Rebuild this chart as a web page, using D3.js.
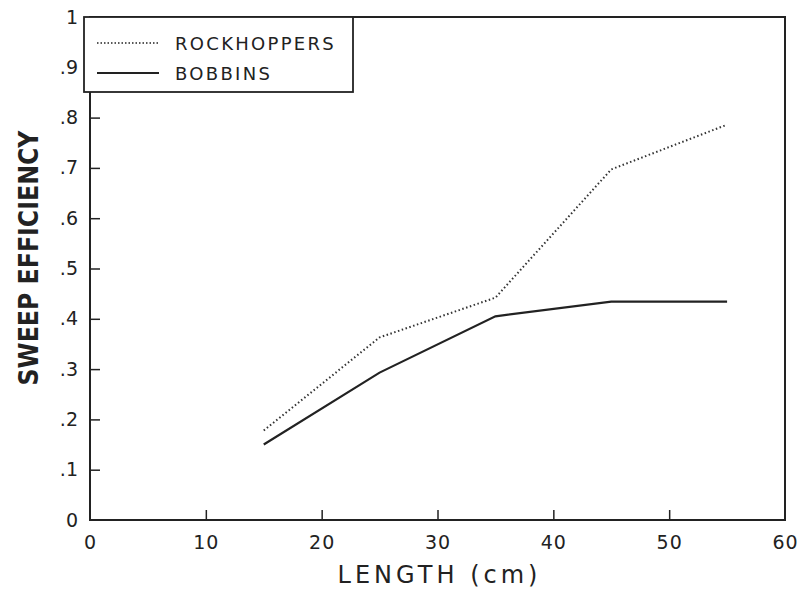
<!DOCTYPE html>
<html>
<head>
<meta charset="utf-8">
<script src="https://cdn.jsdelivr.net/npm/d3@7"></script>
<style>
  body { margin: 0; background: #fff; }
  text { font-family: "DejaVu Sans", sans-serif; fill: #222; }
</style>
</head>
<body>
<div id="chart"></div>
<script>
// data
var lengths = [15, 25, 35, 45, 55];
var rockhoppers = [0.178, 0.363, 0.442, 0.697, 0.786];
var bobbins = [0.150, 0.293, 0.405, 0.434, 0.434];
var xTicks = [0, 10, 20, 30, 40, 50, 60];
var yTicks = [0, 0.1, 0.2, 0.3, 0.4, 0.5, 0.6, 0.7, 0.8, 0.9, 1];
var seriesNames = ["ROCKHOPPERS", "BOBBINS"];

var width = 800, height = 590;
var margin = {left: 90, top: 17, right: 15, bottom: 70};
var w = width - margin.left - margin.right;
var h = height - margin.top - margin.bottom;

var svg = d3.select("#chart").append("svg")
    .attr("width", width)
    .attr("height", height);

var g = svg.append("g").attr("transform", "translate(" + margin.left + "," + margin.top + ")");

var x = d3.scaleLinear().domain([0, 60]).range([0, w]);
var y = d3.scaleLinear().domain([0, 1]).range([h, 0]);

function yFmt(d) {
    if (d == 0) return "0";
    if (d == 1) return "1";
    return d3.format(".1f")(d).replace(/^0/, "");
}

// frame
g.append("rect")
    .attr("width", w).attr("height", h)
    .attr("fill", "none").attr("stroke", "#222").attr("stroke-width", 2);

// x axis, ticks pointing in
var xa = g.append("g")
    .attr("transform", "translate(0," + h + ")")
    .call(d3.axisBottom(x).tickValues(xTicks).tickSizeInner(-10).tickSizeOuter(0).tickPadding(16));
xa.select(".domain").remove();
xa.selectAll("line").attr("stroke", "#222").attr("stroke-width", 1.5);
xa.selectAll("text").attr("font-size", "19px").attr("font-family", "DejaVu Sans")
    .attr("letter-spacing", "1px").attr("fill", "#222");

var ya = g.append("g")
    .call(d3.axisLeft(y).tickValues(yTicks).tickFormat(yFmt).tickSizeInner(-10).tickSizeOuter(0).tickPadding(12));
ya.select(".domain").remove();
ya.selectAll("line").attr("stroke", "#222").attr("stroke-width", 1.5);
ya.selectAll("text").attr("font-size", "19px").attr("font-family", "DejaVu Sans").attr("fill", "#222");
// end ticks sit on the frame
ya.selectAll(".tick").filter(d => d == 0 || d == 1).select("line").remove();
xa.selectAll(".tick").filter(d => d == 0 || d == 60).select("line").remove();

var line = d3.line()
    .x((d, i) => x(lengths[i]))
    .y(d => y(d));

g.append("path")
    .datum(rockhoppers)
    .attr("d", line)
    .attr("fill", "none")
    .attr("stroke", "#333")
    .attr("stroke-width", 2)
    .attr("stroke-dasharray", "1.5,2.5");

g.append("path")
    .datum(bobbins)
    .attr("d", line)
    .attr("fill", "none")
    .attr("stroke", "#222")
    .attr("stroke-width", 2.2);

// legend
var lg = g.append("g").attr("transform", "translate(-6,0)");
lg.append("rect")
    .attr("width", 269).attr("height", 75)
    .attr("fill", "#fff").attr("stroke", "#222").attr("stroke-width", 1.8);
seriesNames.forEach(function(name, i) {
    var yy = 26 + i * 30;
    lg.append("line")
        .attr("x1", 13).attr("x2", 75)
        .attr("y1", yy).attr("y2", yy)
        .attr("stroke", "#222")
        .attr("stroke-width", i == 0 ? 1.5 : 2)
        .attr("stroke-dasharray", i == 0 ? "1.5,2" : null);
    lg.append("text")
        .attr("x", 91).attr("y", yy + 7)
        .attr("font-size", "18px")
        .attr("letter-spacing", "2.3px")
        .text(name);
});

// axis titles
svg.append("text")
    .attr("x", margin.left + w / 2 + 2)
    .attr("y", 583)
    .attr("text-anchor", "middle")
    .attr("font-size", "24px")
    .attr("letter-spacing", "4px")
    .text("LENGTH (cm)");

svg.append("text")
    .attr("transform", "translate(38,258) rotate(-90)")
    .attr("text-anchor", "middle")
    .attr("font-size", "27px")
    .attr("font-weight", "bold")
    .attr("textLength", 255)
    .attr("lengthAdjust", "spacingAndGlyphs")
    .text("SWEEP EFFICIENCY");
</script>
</body>
</html>
